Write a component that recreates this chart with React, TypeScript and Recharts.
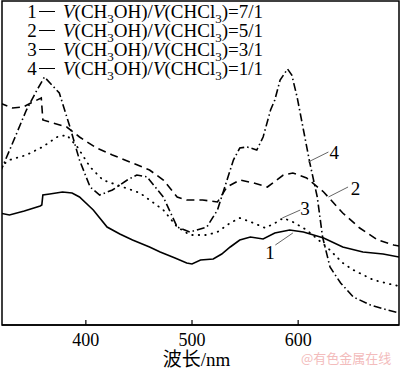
import React from "react";
import {
  LineChart,
  Line,
  XAxis,
  YAxis,
  ReferenceLine,
  ReferenceDot,
  ReferenceArea,
} from "recharts";

// wavelength (nm) vs. absorbance (arbitrary units)
const curve1 = [
  { nm: 319, a: 112 }, { nm: 328, a: 110 }, { nm: 342, a: 114 }, { nm: 357, a: 119 },
  { nm: 358.5, a: 120 }, { nm: 359.5, a: 130 }, { nm: 366, a: 131 }, { nm: 378, a: 133 },
  { nm: 387, a: 132 }, { nm: 394, a: 128 }, { nm: 407, a: 115 }, { nm: 420, a: 98 },
  { nm: 432, a: 91 }, { nm: 444, a: 85 }, { nm: 460, a: 78 }, { nm: 470, a: 73 },
  { nm: 484, a: 67 }, { nm: 495, a: 62 }, { nm: 500, a: 61 }, { nm: 508, a: 65 },
  { nm: 520, a: 66 }, { nm: 528, a: 71 }, { nm: 536, a: 78 }, { nm: 545, a: 85 },
  { nm: 555, a: 88 }, { nm: 567, a: 86 }, { nm: 578, a: 92 }, { nm: 592, a: 95 },
  { nm: 605, a: 93 }, { nm: 624, a: 87 }, { nm: 642, a: 78 }, { nm: 661, a: 73 },
  { nm: 680, a: 71 }, { nm: 695, a: 68 },
];

const curve2 = [
  { nm: 319, a: 222 }, { nm: 331, a: 217 }, { nm: 341, a: 218 }, { nm: 350, a: 223 },
  { nm: 358, a: 227 }, { nm: 359.5, a: 205 }, { nm: 366, a: 203 }, { nm: 382, a: 198 },
  { nm: 394, a: 188 }, { nm: 410, a: 177 }, { nm: 425, a: 170 }, { nm: 444, a: 162 },
  { nm: 460, a: 155 }, { nm: 473, a: 145 }, { nm: 486, a: 128 }, { nm: 495, a: 125 },
  { nm: 510, a: 125 }, { nm: 524, a: 123 }, { nm: 533, a: 138 }, { nm: 545, a: 145 },
  { nm: 558, a: 142 }, { nm: 571, a: 138 }, { nm: 586, a: 150 }, { nm: 595, a: 152 },
  { nm: 608, a: 147 }, { nm: 624, a: 133 }, { nm: 642, a: 112 }, { nm: 658, a: 97 },
  { nm: 675, a: 85 }, { nm: 690, a: 80 }, { nm: 695, a: 79 },
];

const curve3 = [
  { nm: 319, a: 158 }, { nm: 328, a: 165 }, { nm: 344, a: 170 }, { nm: 359, a: 178 },
  { nm: 373, a: 188 }, { nm: 382, a: 190 }, { nm: 392, a: 178 }, { nm: 404, a: 158 },
  { nm: 416, a: 145 }, { nm: 435, a: 138 }, { nm: 451, a: 132 }, { nm: 460, a: 125 },
  { nm: 473, a: 115 }, { nm: 486, a: 98 }, { nm: 498, a: 90 }, { nm: 514, a: 90 },
  { nm: 524, a: 93 }, { nm: 536, a: 102 }, { nm: 545, a: 107 }, { nm: 558, a: 102 },
  { nm: 569, a: 97 }, { nm: 580, a: 103 }, { nm: 586, a: 107 }, { nm: 595, a: 103 },
  { nm: 608, a: 95 }, { nm: 627, a: 78 }, { nm: 642, a: 62 }, { nm: 652, a: 55 },
  { nm: 671, a: 45 }, { nm: 690, a: 40 }, { nm: 695, a: 39 },
];

const curve4 = [
  { nm: 319, a: 152 }, { nm: 331, a: 182 }, { nm: 344, a: 215 }, { nm: 354, a: 235 },
  { nm: 361, a: 248 }, { nm: 375, a: 232 }, { nm: 385, a: 198 }, { nm: 394, a: 165 },
  { nm: 404, a: 138 }, { nm: 413, a: 130 }, { nm: 425, a: 135 }, { nm: 439, a: 145 },
  { nm: 448, a: 150 }, { nm: 458, a: 148 }, { nm: 460, a: 145 }, { nm: 473, a: 128 },
  { nm: 486, a: 98 }, { nm: 498, a: 93 }, { nm: 514, a: 98 }, { nm: 524, a: 115 },
  { nm: 533, a: 145 }, { nm: 539, a: 165 }, { nm: 545, a: 177 }, { nm: 552, a: 178 },
  { nm: 561, a: 175 }, { nm: 567, a: 188 }, { nm: 574, a: 215 }, { nm: 578, a: 225 },
  { nm: 583, a: 245 }, { nm: 590, a: 256 }, { nm: 594, a: 250 }, { nm: 599, a: 228 },
  { nm: 605, a: 195 }, { nm: 611, a: 162 }, { nm: 618, a: 128 }, { nm: 623, a: 88 },
  { nm: 630, a: 58 }, { nm: 640, a: 42 }, { nm: 652, a: 28 }, { nm: 668, a: 20 },
  { nm: 684, a: 15 }, { nm: 695, a: 12 },
];

const ratios = ["7/1", "5/1", "3/1", "1/1"];
const xTicks = [400, 500, 600];
const xDomain = [321, 695];
const yDomain = [0, 324];

// curve number labels: leader line start -> end, label position
const callouts = [
  { id: "1", from: { x: 595, y: 92 }, to: { x: 578.5, y: 80 }, at: { x: 573.5, y: 73 } },
  { id: "2", from: { x: 628.5, y: 128 }, to: { x: 647, y: 138 }, at: { x: 654, y: 137 } },
  { id: "3", from: { x: 585, y: 107 }, to: { x: 602, y: 115 }, at: { x: 606.5, y: 117 } },
  { id: "4", from: { x: 609.5, y: 163 }, to: { x: 628.5, y: 173 }, at: { x: 634, y: 173 } },
];

const serif = "'Liberation Serif', 'Times New Roman', serif";

const BottomTick = (props: any) => {
  const { x, y, payload } = props;
  return (
    <g>
      <line x1={x} x2={x} y1={y} y2={y - 5} stroke="#000" strokeWidth={1.2} />
      <text x={x} y={y + 21} textAnchor="middle" fontFamily={serif} fontSize={18} fill="#000">
        {payload.value}
      </text>
    </g>
  );
};

const lineStyle = { stroke: "#000", strokeWidth: 1.6, dot: false, isAnimationActive: false };

export default function App() {
  return (
    <div style={{ position: "absolute", left: 0, top: 0, width: 400, height: 370, background: "#fff" }}>
      <LineChart width={400} height={370} margin={{ top: 1, right: 1, bottom: 0, left: 2 }}>
        <XAxis
          dataKey="nm"
          type="number"
          domain={xDomain}
          ticks={xTicks}
          allowDataOverflow
          height={45}
          tickSize={0}
          tickMargin={0}
          tick={<BottomTick />}
          tickLine={false}
          axisLine={{ stroke: "#000", strokeWidth: 1.5 }}
          label={{
            value: "波长/nm",
            position: "insideBottom",
            offset: 4,
            dx: -4,
            style: { fontFamily: "'Liberation Serif', 'Noto Sans CJK SC', serif", fontSize: 19, fill: "#000" },
          }}
        />
        <YAxis type="number" domain={yDomain} allowDataOverflow width={0} hide />

        <ReferenceArea
          x1={xDomain[0]}
          x2={xDomain[1]}
          y1={yDomain[0]}
          y2={yDomain[1]}
          fill="none"
          fillOpacity={0}
          stroke="#000"
          strokeWidth={1.5}
          ifOverflow="visible"
        />

        <Line data={curve1} dataKey="a" {...lineStyle} />
        <Line data={curve2} dataKey="a" {...lineStyle} strokeDasharray="8 5" />
        <Line data={curve3} dataKey="a" {...lineStyle} strokeWidth={1.8} strokeDasharray="0.5 6" strokeLinecap="round" />
        <Line data={curve4} dataKey="a" {...lineStyle} strokeDasharray="8 3 1.5 3" />

        {callouts.map((c) => (
          <ReferenceLine
            key={"l" + c.id}
            segment={[c.from, c.to]}
            stroke="#666"
            strokeWidth={1}
            ifOverflow="visible"
          />
        ))}
        {callouts.map((c) => (
          <ReferenceDot
            key={"d" + c.id}
            x={c.at.x}
            y={c.at.y}
            r={0}
            fill="none"
            stroke="none"
            ifOverflow="visible"
            label={{
              value: c.id,
              position: "center",
              style: { fontFamily: serif, fontSize: 19, fill: "#000" },
            }}
          />
        ))}
      </LineChart>

      {/* legend */}
      <div style={{ position: "absolute", left: 27, top: 2, fontFamily: serif, fontSize: 19, lineHeight: "19px", color: "#000" }}>
        {ratios.map((r, i) => (
          <div key={r} style={{ display: "flex", alignItems: "center", whiteSpace: "nowrap", height: 19 }}>
            <span style={{ width: 10, display: "inline-block", textAlign: "center" }}>{i + 1}</span>
            <span style={{ display: "inline-block", width: 16, height: 0, borderTop: "1.5px solid #000", margin: "0 8px 0 2px" }} />
            <span>
              <i>V</i>(CH<sub style={{ fontSize: 13, lineHeight: 0 }}>3</sub>OH)/<i>V</i>(CHCl<sub style={{ fontSize: 13, lineHeight: 0 }}>3</sub>)={r}
            </span>
          </div>
        ))}
      </div>

      <div style={{ position: "absolute", left: 301, top: 348, fontFamily: "'Noto Sans CJK SC', sans-serif", fontSize: 13, color: "#f3bcbc", whiteSpace: "nowrap" }}>
        @有色金属在线
      </div>
    </div>
  );
}
